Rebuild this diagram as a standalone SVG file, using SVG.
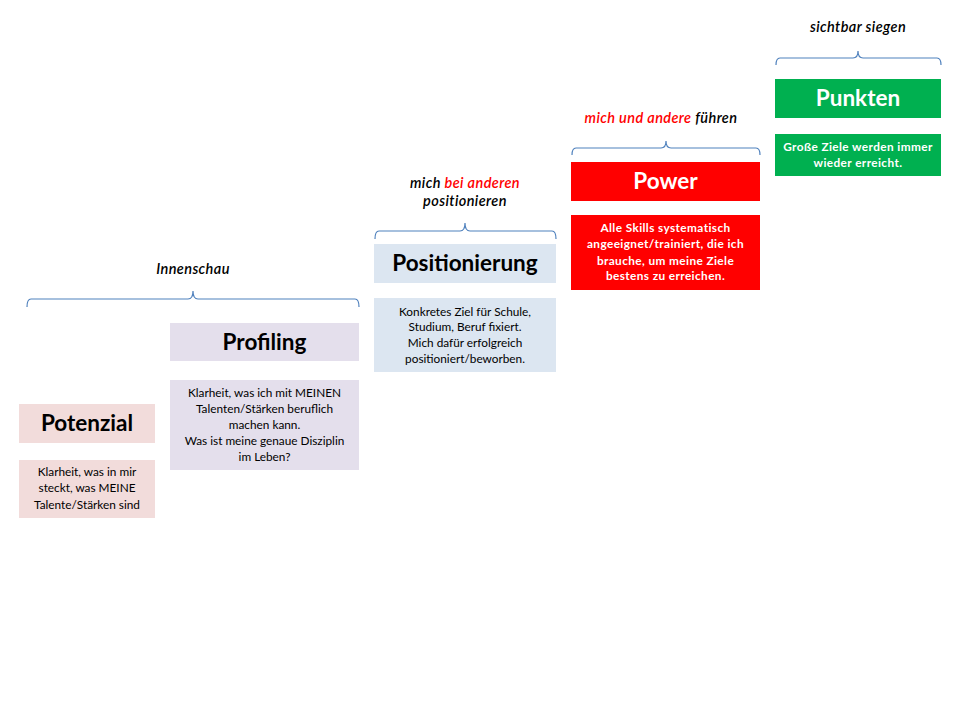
<svg xmlns="http://www.w3.org/2000/svg" width="960" height="720" viewBox="0 0 960 720">
<style>
.title{font-family:Lato,"Open Sans","Liberation Sans",sans-serif;font-weight:bold;font-size:22.5px;text-anchor:middle;fill:#000}
.desc{font-family:Lato,"Open Sans","Liberation Sans",sans-serif;font-size:11.8px;text-anchor:middle;fill:#000}
.wht{fill:#fff;font-weight:bold}
.desc.wht{letter-spacing:0.4px}
.lab{font-family:Lato,"Open Sans","Liberation Sans",sans-serif;font-style:italic;font-weight:600;font-size:14.5px;letter-spacing:0.4px;text-anchor:middle;fill:#000}
.red{fill:#FF0000}
.brace{fill:none;stroke:#4F81BD;stroke-width:1.2}
</style>
<rect width="960" height="720" fill="#fff"/>
<g id="connectors">
<path class="brace" d="M27,307 Q27,299 31,299 L188,299 Q193,299 193,291 Q193,299 198,299 L355,299 Q359,299 359,307"/>
<path class="brace" d="M375,239 Q375,231 379,231 L460,231 Q465,231 465,223 Q465,231 470,231 L552,231 Q556,231 556,239"/>
<path class="brace" d="M572,155 Q572,148 576,148 L661,148 Q666,148 666,141 Q666,148 671,148 L756,148 Q760,148 760,155"/>
<path class="brace" d="M776,65 Q776,58 780,58 L853,58 Q858,58 858,51 Q858,58 863,58 L937,58 Q941,58 941,65"/>
</g>
<g id="label-innenschau"><text class="lab" x="193" y="274">Innenschau</text></g>
<g id="label-positionieren"><text class="lab" x="465" y="188">mich <tspan class="red">bei anderen</tspan></text><text class="lab" x="465" y="206">positionieren</text></g>
<g id="label-fuehren"><text class="lab" x="661" y="123"><tspan class="red">mich und andere</tspan> führen</text></g>
<g id="label-siegen"><text class="lab" x="858" y="32">sichtbar siegen</text></g>
<g id="potenzial">
<rect x="19" y="404" width="136" height="39" fill="#F2DCDB"/>
<text class="title" x="87" y="431">Potenzial</text>
<rect x="19" y="460" width="136" height="58" fill="#F2DCDB"/>
<text class="desc" x="87" y="476">Klarheit, was in mir</text>
<text class="desc" x="87" y="492">steckt, was MEINE</text>
<text class="desc" x="87" y="509">Talente/Stärken sind</text>
</g>
<g id="profiling">
<rect x="170" y="323" width="189" height="38" fill="#E4DFEC"/>
<text class="title" x="264.5" y="350">Profiling</text>
<rect x="170" y="380" width="189" height="90" fill="#E4DFEC"/>
<text class="desc" x="264.5" y="397">Klarheit, was ich mit MEINEN</text>
<text class="desc" x="264.5" y="413">Talenten/Stärken beruflich</text>
<text class="desc" x="264.5" y="429">machen kann.</text>
<text class="desc" x="264.5" y="445">Was ist meine genaue Disziplin</text>
<text class="desc" x="264.5" y="461">im Leben?</text>
</g>
<g id="positionierung">
<rect x="374" y="244" width="182" height="39" fill="#DCE6F1"/>
<text class="title" x="465" y="271">Positionierung</text>
<rect x="374" y="298" width="182" height="74" fill="#DCE6F1"/>
<text class="desc" x="465" y="316">Konkretes Ziel für Schule,</text>
<text class="desc" x="465" y="331">Studium, Beruf fixiert.</text>
<text class="desc" x="465" y="347">Mich dafür erfolgreich</text>
<text class="desc" x="465" y="363">positioniert/beworben.</text>
</g>
<g id="power">
<rect x="571" y="162" width="189" height="39" fill="#FF0000"/>
<text class="title wht" x="665.5" y="189">Power</text>
<rect x="571" y="215" width="189" height="75" fill="#FF0000"/>
<text class="desc wht" x="665.5" y="232">Alle Skills systematisch</text>
<text class="desc wht" x="665.5" y="248">angeeignet/trainiert, die ich</text>
<text class="desc wht" x="665.5" y="265">brauche, um meine Ziele</text>
<text class="desc wht" x="665.5" y="280">bestens zu erreichen.</text>
</g>
<g id="punkten">
<rect x="775" y="79" width="166" height="39" fill="#00B050"/>
<text class="title wht" x="858" y="106">Punkten</text>
<rect x="775" y="134" width="166" height="42" fill="#00B050"/>
<text class="desc wht" x="858" y="151">Große Ziele werden immer</text>
<text class="desc wht" x="858" y="167">wieder erreicht.</text>
</g>
</svg>
